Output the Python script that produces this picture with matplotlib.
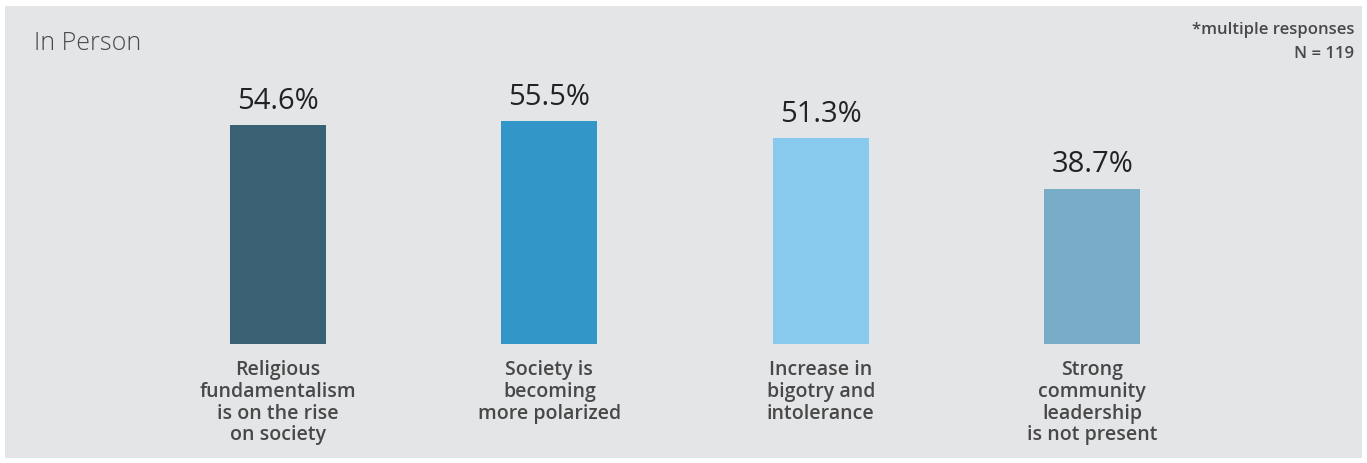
import matplotlib.pyplot as plt
from matplotlib.patches import Rectangle

categories = ["Religious\nfundamentalism\nis on the rise\non society",
              "Society is\nbecoming\nmore polarized",
              "Increase in\nbigotry and\nintolerance",
              "Strong\ncommunity\nleadership\nis not present"]
values = [54.6, 55.5, 51.3, 38.7]
colors = ["#3a6074", "#3396c8", "#88caee", "#79acc7"]

plt.rcParams['font.family'] = ['Open Sans', 'DejaVu Sans']

W, H = 1367, 463
fig = plt.figure(figsize=(W / 100, H / 100), dpi=100)
fig.patch.set_facecolor("white")

# gray panel behind everything
fig.patches.append(Rectangle((5 / W, 5 / H), 1357 / W, 452 / H,
                             transform=fig.transFigure, facecolor="#e4e5e7",
                             edgecolor="none", zorder=-10))

px_per_unit = 271.4
x0 = 278
ax = fig.add_axes([0, (H - 344) / H, 1, 344 / H])
ax.set_facecolor("none")
ax.set_xlim(-x0 / px_per_unit, (W - x0) / px_per_unit)
ax.set_ylim(0, 344 / 4.01)
ax.axis("off")

xs = range(len(values))
ax.bar(xs, values, width=96 / px_per_unit, color=colors)
for x, v, lab in zip(xs, values, categories):
    ax.text(x, v + 24 / 4.01, f"{v}%", ha="center", va="center",
            fontsize=21, color="#222222")
    ax.text(x, -16 / 4.01, lab, ha="center", va="top", fontsize=14,
            fontweight="semibold", color="#484848", linespacing=1.12,
            clip_on=False)

fig.text(34 / W, 1 - 44 / H, "In Person", ha="left", va="center",
         fontsize=18, color="#4a4a4a", fontweight="light")
fig.text(1354 / W, 1 - 30 / H, "*multiple responses", ha="right", va="center",
         fontsize=12, fontweight="semibold", color="#484848")
fig.text(1354 / W, 1 - 54 / H, "N = 119", ha="right", va="center",
         fontsize=12, fontweight="semibold", color="#484848")

fig.savefig("out.png", dpi=100)
